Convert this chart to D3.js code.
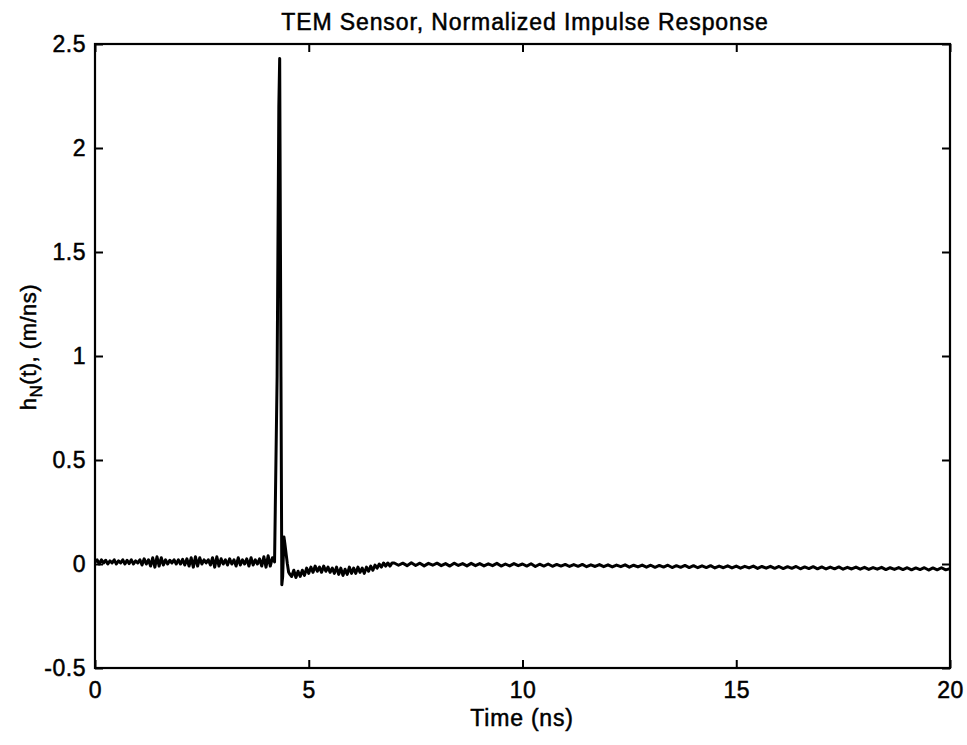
<!DOCTYPE html>
<html>
<head>
<meta charset="utf-8">
<script src="https://cdn.jsdelivr.net/npm/d3@7"></script>
<style>
  body { margin: 0; background: #fff; }
  svg text { font-family: "Liberation Sans", Arial, sans-serif; fill: #000; stroke: #000; stroke-width: 0.5px; }
</style>
</head>
<body>
<svg id="chart"></svg>
<script>
const w = 967;
const h = 745;

// pre-pulse noise, sampled every 0.05 ns from 0 ns
const preStep = 0.05;
const preValues = [
  0.01, 0.02, 0.0, 0.02, 0.005, 0.018, 0.0, 0.015, 0.005, 0.02,
  0.0, 0.015, 0.005, 0.02, 0.0, 0.018, 0.002, 0.02, 0.0, 0.015,
  0.005, 0.02, -0.005, 0.025, 0.0, 0.02, -0.01, 0.03, -0.015, 0.035,
  -0.01, 0.03, -0.005, 0.02, 0.0, 0.018, 0.005, 0.02, 0.0, 0.02,
  0.0, 0.022, -0.005, 0.025, -0.01, 0.03, -0.015, 0.035, -0.01, 0.03,
  0.0, 0.02, 0.005, 0.02, -0.005, 0.03, -0.015, 0.035, -0.01, 0.025,
  0.0, 0.02, -0.005, 0.025, 0.0, 0.02, -0.01, 0.03, -0.005, 0.02,
  0.0, 0.025, -0.01, 0.03, -0.005, 0.02, 0.0, 0.025, -0.01, 0.035,
  -0.015, 0.04, -0.01, 0.03
];

// the impulse itself
const pulseTimes  = [4.2, 4.26, 4.3, 4.32, 4.35, 4.37, 4.39, 4.42, 4.44, 4.47, 4.5, 4.53, 4.56];
const pulseValues = [0.01, 0.9, 2.2, 2.43, 0.9, -0.1, -0.06, 0.13, 0.1, 0.05, 0.0, -0.04, -0.05];

// ringing after the pulse, every 0.05 ns from 4.6 ns
const postStart = 4.6;
const postStep = 0.05;
const postValues = [
  -0.06, -0.03, -0.065, -0.035, -0.06, -0.03, -0.055, -0.02, -0.045, -0.015,
  -0.04, -0.01, -0.035, -0.015, -0.04, -0.01, -0.035, -0.015, -0.04, -0.02,
  -0.045, -0.015, -0.05, -0.02, -0.055, -0.025, -0.05, -0.015, -0.045, -0.02,
  -0.045, -0.015, -0.04, -0.02, -0.045, -0.015, -0.035, -0.01, -0.03, -0.005,
  -0.02, 0.0, -0.015, 0.005, -0.01, 0.005, -0.01, 0.005
];

// tail, every 0.1 ns from 7 ns to 20 ns
const tailStart = 7.0;
const tailStep = 0.1;
const tailValues = [
  0.005, -0.006, 0.004, -0.008, 0.006, -0.007, 0.004, -0.009, 0.003, -0.006,
  0.004, -0.008, 0.002, -0.01, 0.004, -0.007, 0.002, -0.009, 0.003, -0.008,
  0.002, -0.009, 0.001, -0.008, 0.003, -0.01, 0.0, -0.009, 0.002, -0.008,
  0.0, -0.01, 0.001, -0.012, -0.001, -0.01, 0.0, -0.011, -0.002, -0.01,
  -0.002, -0.012, -0.003, -0.011, -0.002, -0.013, -0.004, -0.012, -0.003, -0.013,
  -0.004, -0.014, -0.005, -0.013, -0.004, -0.015, -0.006, -0.014, -0.005, -0.015,
  -0.006, -0.016, -0.007, -0.015, -0.006, -0.017, -0.008, -0.016, -0.007, -0.017,
  -0.008, -0.018, -0.009, -0.017, -0.008, -0.019, -0.01, -0.018, -0.009, -0.019,
  -0.01, -0.02, -0.011, -0.019, -0.01, -0.021, -0.012, -0.02, -0.011, -0.021,
  -0.012, -0.022, -0.013, -0.021, -0.012, -0.023, -0.014, -0.022, -0.013, -0.023,
  -0.014, -0.024, -0.015, -0.023, -0.014, -0.025, -0.016, -0.024, -0.015, -0.025,
  -0.016, -0.026, -0.017, -0.025, -0.016, -0.027, -0.018, -0.026, -0.017, -0.027,
  -0.018, -0.028, -0.019, -0.027, -0.018, -0.029, -0.019, -0.028, -0.018, -0.028,
  -0.022
];

const xTicks = [0, 5, 10, 15, 20];
const yTicks = [-0.5, 0, 0.5, 1, 1.5, 2, 2.5];

// put the samples together as [time, value]
const series = [];
preValues.forEach((v, i) => series.push([i * preStep, v]));
pulseTimes.forEach((t, i) => series.push([t, pulseValues[i]]));
postValues.forEach((v, i) => series.push([postStart + i * postStep, v]));
tailValues.forEach((v, i) => series.push([tailStart + i * tailStep, v]));

const padL = 95, padR = 950, padT = 44, padB = 668;

const svg = d3.select('#chart')
    .attr('width', w)
    .attr('height', h);

const xScale = d3.scaleLinear().domain([0, 20]).range([padL, padR]);
const yScale = d3.scaleLinear().domain([-0.5, 2.5]).range([padB, padT]);

// data line
const line = d3.line()
    .x((d) => xScale(d[0]))
    .y((d) => yScale(d[1]));

svg.append('path')
    .datum(series)
    .attr('d', line)
    .attr('fill', 'none')
    .attr('stroke', '#000')
    .attr('stroke-width', 3)
    .attr('stroke-linejoin', 'round');

// MATLAB style box with inward ticks
const tickLen = 8;
const plain = (d) => String(d);

svg.append('g')
    .attr('transform', 'translate(0,' + padB + ')')
    .call(d3.axisBottom(xScale).tickValues(xTicks).tickSizeInner(-tickLen).tickSizeOuter(0).tickPadding(14).tickFormat(plain))
    .call((g) => g.select('.domain').remove())
    .attr('font-size', 23);

svg.append('g')
    .attr('transform', 'translate(0,' + padT + ')')
    .call(d3.axisTop(xScale).tickValues(xTicks).tickSizeInner(-tickLen).tickSizeOuter(0).tickFormat(''))
    .call((g) => g.select('.domain').remove());

svg.append('g')
    .attr('transform', 'translate(' + padL + ',0)')
    .call(d3.axisLeft(yScale).tickValues(yTicks).tickSizeInner(-tickLen).tickSizeOuter(0).tickPadding(9).tickFormat(plain))
    .call((g) => g.select('.domain').remove())
    .attr('font-size', 23);

svg.append('g')
    .attr('transform', 'translate(' + padR + ',0)')
    .call(d3.axisRight(yScale).tickValues(yTicks).tickSizeInner(-tickLen).tickSizeOuter(0).tickFormat(''))
    .call((g) => g.select('.domain').remove());

svg.selectAll('.tick line')
    .attr('stroke', '#000')
    .attr('stroke-width', 2);

svg.selectAll('.tick text')
    .attr('fill', '#000')
    .style('font-family', '"Liberation Sans", Arial, sans-serif')
    .style('letter-spacing', '0.5px');

svg.append('rect')
    .attr('x', padL)
    .attr('y', padT)
    .attr('width', padR - padL)
    .attr('height', padB - padT)
    .attr('fill', 'none')
    .attr('stroke', '#000')
    .attr('stroke-width', 2.2);

// title and labels
svg.append('text')
    .attr('x', 525)
    .attr('y', 30)
    .attr('text-anchor', 'middle')
    .attr('font-size', 23)
    .style('letter-spacing', '0.9px')
    .text('TEM Sensor, Normalized Impulse Response');

svg.append('text')
    .attr('x', 522)
    .attr('y', 726)
    .attr('text-anchor', 'middle')
    .attr('font-size', 23)
    .style('letter-spacing', '0.8px')
    .text('Time (ns)');

const ylab = svg.append('text')
    .attr('transform', 'translate(36,347) rotate(-90)')
    .attr('text-anchor', 'middle')
    .attr('font-size', 22)
    .style('letter-spacing', '0.5px');
ylab.append('tspan').text('h');
ylab.append('tspan').attr('dy', 6).attr('font-size', 17).text('N');
ylab.append('tspan').attr('dy', -6).text('(t), (m/ns)');
</script>
</body>
</html>
